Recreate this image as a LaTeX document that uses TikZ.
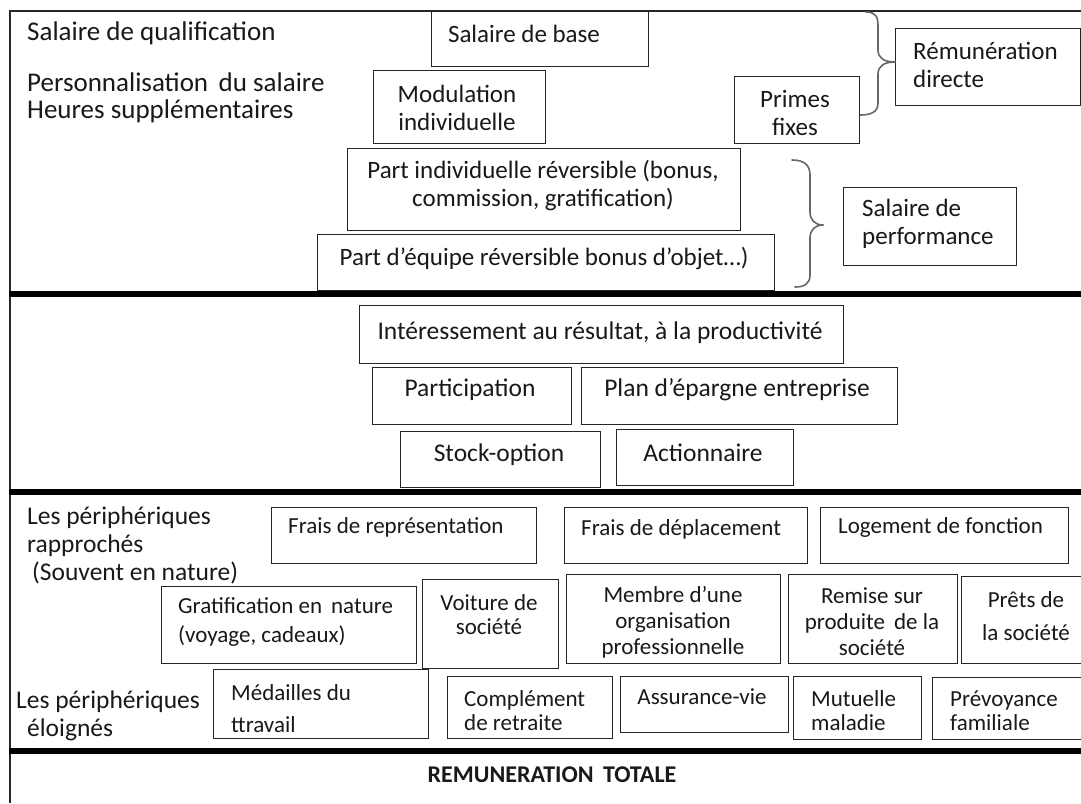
\documentclass[tikz,border=0pt]{standalone}
\usepackage{fontspec}
\setmainfont{Carlito}
\newcommand\fsTopL{\fontsize{27}{29}\selectfont}
\newcommand\fsTop{\fontsize{25}{28}\selectfont}
\newcommand\fsMid{\fontsize{25.5}{28}\selectfont}
\newcommand\fsBot{\fontsize{23}{26}\selectfont}
\newcommand\fsBotL{\fontsize{25.5}{28}\selectfont}
\begin{document}
\begin{tikzpicture}[x=1pt,y=-1pt,
  box/.style={draw=black!85, line width=1.4pt, inner sep=0pt, anchor=north west},
  lab/.style={inner sep=0pt, text=black!90},
  sepline/.style={line width=6pt, black},
  frame/.style={line width=1.8pt, black!85},
  brace/.style={line width=1.6pt, black!60, line cap=round, line join=round}]
\useasboundingbox (0,0) rectangle (1081,803);
\fill[white] (0,0) rectangle (1081,803);
% frame
\draw[frame] (10,803) -- (10,11) -- (1081,11);
% separators
\draw[sepline] (9,294) -- (1081,294);
\draw[sepline] (9,492) -- (1081,492);
\draw[sepline] (9,751) -- (1081,751);

% ---------- top section boxes ----------
\node[box, minimum width=217pt, minimum height=55pt] (sb) at (431,11) {};
\node[box, minimum width=172pt, minimum height=73pt] (mod) at (373,70) {};
\node[box, minimum width=125pt, minimum height=67pt] (pf) at (734,76) {};
\node[box, minimum width=185pt, minimum height=77pt] (rd) at (895,28) {};
\node[box, minimum width=393pt, minimum height=82pt] (pi) at (347,148) {};
\node[box, minimum width=457pt, minimum height=56pt] (pe) at (317,234) {};
\node[box, minimum width=173pt, minimum height=78pt] (sp) at (843,187) {};

% top texts
\node[lab, anchor=west, font=\fsTopL] (tq) at (27,33) {Salaire de qualification};
\node[lab, anchor=west, font=\fsTopL] (tpers) at (27,82) {Personnalisation\, du salaire};
\node[lab, anchor=west, font=\fsTopL] (theu) at (27,111) {Heures supplémentaires};
\node[lab, font=\fsTop] (tsb) at (524,34) {Salaire de base};
\node[lab, font=\fsTop, align=center] (tmod) at (457,108) {Modulation\\individuelle};
\node[lab, font=\fsTop, align=center] (tpf) at (795,113) {Primes\\fixes};
\node[lab, font=\fsTop, align=left, anchor=west] (trd) at (913,65) {Rémunération\\directe};
\node[lab, font=\fsTop, align=center] (tpi) at (543,186) {Part individuelle réversible (bonus,\\commission, gratification)};
\node[lab, font=\fsTop] (tpe) at (544,258) {Part d’équipe réversible bonus d’objet…)};
\node[lab, font=\fsTop, align=left, anchor=west] (tsp) at (862,224) {Salaire de\\performance};

% braces
\draw[brace] (866,12) .. controls (876,12) and (878,17) .. (878,26) -- (878,50)
  .. controls (878,58) and (884,62) .. (rd.west |- 0,62);
\draw[brace] (rd.west |- 0,62) .. controls (884,62) and (878,66) .. (878,74) -- (878,103)
  .. controls (878,112) and (871,115) .. (pf.east |- 0,115);
\draw[brace] (792,160) .. controls (804,160) and (810,165) .. (810,175) -- (810,212)
  .. controls (810,220) and (815,225) .. (823,225);
\draw[brace] (823,225) .. controls (815,225) and (810,230) .. (810,238) -- (810,275)
  .. controls (810,284) and (804,287) .. (795,287);

% ---------- middle section ----------
\node[box, minimum width=484pt, minimum height=58pt] (int) at (359,305) {};
\node[box, minimum width=199pt, minimum height=57pt] (par) at (372,367) {};
\node[box, minimum width=316pt, minimum height=57pt] (pee) at (581,367) {};
\node[box, minimum width=200pt, minimum height=56pt] (so) at (400,431) {};
\node[box, minimum width=177pt, minimum height=56pt] (act) at (616,429) {};
\node[lab, font=\fsMid] (tint) at (600,333) {Intéressement au résultat, à la productivité};
\node[lab, font=\fsMid] (tpar) at (470,390) {Participation};
\node[lab, font=\fsMid] (tpee) at (737,390) {Plan d’épargne entreprise};
\node[lab, font=\fsMid] (tso) at (499,455) {Stock-option};
\node[lab, font=\fsMid] (tact) at (703,453) {Actionnaire};

% ---------- bottom section ----------
\node[box, minimum width=265pt, minimum height=56pt] (fr) at (271,507) {};
\node[box, minimum width=243pt, minimum height=56pt] (fd) at (564,507) {};
\node[box, minimum width=248pt, minimum height=56pt] (lf) at (820,507) {};
\node[box, minimum width=255pt, minimum height=77pt] (gn) at (161,586) {};
\node[box, minimum width=136pt, minimum height=89pt] (vs) at (422,579) {};
\node[box, minimum width=214pt, minimum height=89pt] (mo) at (566,574) {};
\node[box, minimum width=169pt, minimum height=89pt] (rs) at (788,574) {};
\node[box, minimum width=140pt, minimum height=87pt] (ps) at (961,576) {};
\node[box, minimum width=215pt, minimum height=69pt] (md) at (213,669) {};
\node[box, minimum width=165pt, minimum height=62pt] (cr) at (447,676) {};
\node[box, minimum width=168pt, minimum height=56pt] (av) at (620,676) {};
\node[box, minimum width=128pt, minimum height=63pt] (mm) at (793,676) {};
\node[box, minimum width=170pt, minimum height=62pt] (pv) at (932,677) {};

\node[lab, font=\fsBotL, align=left, anchor=west] (tlr) at (27,545) {Les périphériques\\rapprochés\\\hspace*{5pt}(Souvent en nature)};
\node[lab, font=\fsBotL, align=left, anchor=west] (tle) at (16,716) {Les périphériques\\\hspace*{11pt}éloignés};
\node[lab, font=\fsBot, anchor=west] (tfr) at (288,527) {Frais de représentation};
\node[lab, font=\fsBot, anchor=west] (tfd) at (581,529) {Frais de déplacement};
\node[lab, font=\fsBot, anchor=west] (tlf) at (838,527) {Logement de fonction};
\node[lab, font=\fsBot, align=left, anchor=west] (tgn) at (178,622) {Gratification en\, nature\\[3pt](voyage, cadeaux)};
\node[lab, font=\fsBot, align=center] (tvs) at (489,615) {Voiture de\\[-2pt]société};
\node[lab, font=\fsBot, align=center] (tmo) at (673,622) {Membre d’une\\organisation\\professionnelle};
\node[lab, font=\fsBot, align=center] (trs) at (872,622) {Remise sur\\produite\, de la\\société};
\node[lab, font=\fsBot, align=center] (tps) at (1026,616) {Prêts de\\[7pt]la société};
\node[lab, font=\fsBot, align=left, anchor=west] (tmd) at (231,709) {Médailles du\\[6pt]ttravail};
\node[lab, font=\fsBot, align=left, anchor=west] (tcr) at (464,711) {Complément\\[-2pt]de retraite};
\node[lab, font=\fsBot] (tav) at (702,697) {Assurance-vie};
\node[lab, font=\fsBot, align=left, anchor=west] (tmm) at (811,711) {Mutuelle\\[-2pt]maladie};
\node[lab, font=\fsBot, align=left, anchor=west] (tpv) at (950,711) {Prévoyance\\[-2pt]familiale};
\node[lab, font=\fontsize{24}{27}\selectfont\bfseries] (ttot) at (552,775) {REMUNERATION\, TOTALE};
\end{tikzpicture}
\end{document}
